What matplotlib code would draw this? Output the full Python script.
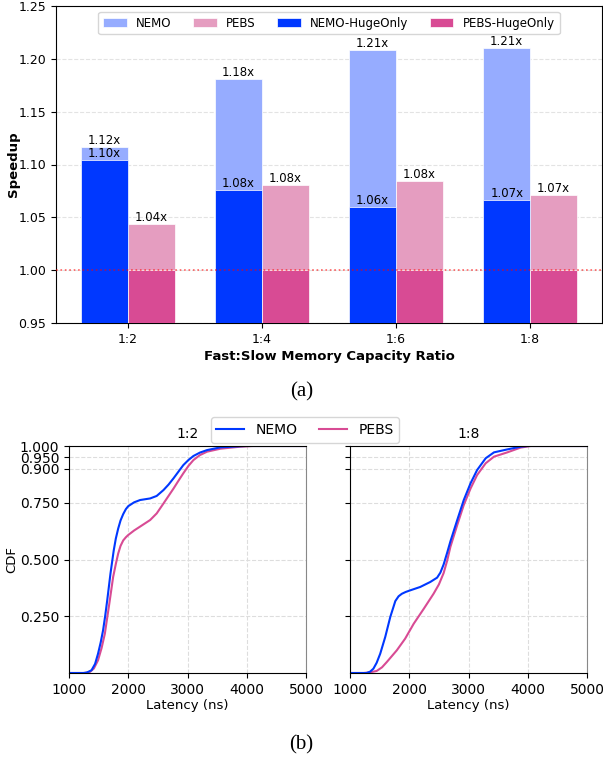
import numpy as np
import matplotlib.pyplot as plt

# speedup per fast:slow capacity ratio
ratios = ['1:2', '1:4', '1:6', '1:8']
nemo = [1.117, 1.181, 1.208, 1.210]
nemo_huge = [1.104, 1.076, 1.060, 1.066]
pebs = [1.044, 1.081, 1.084, 1.071]
pebs_huge = [1.000, 1.000, 1.000, 1.000]

# latency CDFs (ns), 1:2 ratio
lat_nemo_12 = [1000, 1240, 1300, 1380, 1440, 1490, 1535, 1575, 1610, 1645, 1700, 1755, 1790,
               1830, 1870, 1915, 1960, 2000, 2100, 2200, 2370, 2480, 2595, 2680, 2765, 2850,
               2930, 3015, 3100, 3210, 3330, 3555, 3890, 4000, 5000]
cdf_nemo_12 = [0, 0, 0.002, 0.012, 0.040, 0.085, 0.135, 0.188, 0.250, 0.320, 0.438, 0.540, 0.592,
               0.636, 0.672, 0.700, 0.722, 0.735, 0.752, 0.762, 0.769, 0.780, 0.806, 0.830, 0.858, 0.888,
               0.916, 0.938, 0.956, 0.971, 0.982, 0.994, 0.999, 1.0, 1.0]
lat_pebs_12 = [1000, 1260, 1350, 1420, 1490, 1550, 1605, 1640, 1680, 1745, 1790, 1830, 1870,
               1915, 1960, 2000, 2100, 2200, 2370, 2480, 2595, 2680, 2765, 2850, 2930, 3015,
               3100, 3210, 3330, 3555, 3890, 4100, 5000]
cdf_pebs_12 = [0, 0, 0.004, 0.020, 0.056, 0.110, 0.173, 0.235, 0.305, 0.423, 0.480, 0.526, 0.560,
               0.584, 0.598, 0.608, 0.628, 0.645, 0.674, 0.703, 0.747, 0.780, 0.813, 0.848, 0.880, 0.912,
               0.938, 0.960, 0.975, 0.988, 0.997, 1.0, 1.0]

# latency CDFs (ns), 1:8 ratio
lat_nemo_18 = [1000, 1280, 1340, 1395, 1450, 1510, 1595, 1680, 1765, 1820, 1875, 1940, 2015, 2185,
               2355, 2470, 2525, 2580, 2640, 2695, 2810, 2920, 3035, 3145, 3290, 3430, 3655,
               3880, 4000, 5000]
cdf_nemo_18 = [0, 0, 0.006, 0.019, 0.045, 0.085, 0.159, 0.247, 0.317, 0.338, 0.349, 0.357, 0.364, 0.379,
               0.401, 0.420, 0.442, 0.478, 0.530, 0.580, 0.674, 0.762, 0.836, 0.894, 0.946, 0.972, 0.985,
               0.997, 1.0, 1.0]
lat_pebs_18 = [1000, 1230, 1340, 1450, 1540, 1620, 1790, 1930, 2075, 2245, 2410, 2500, 2580,
               2640, 2695, 2810, 2920, 3035, 3145, 3290, 3430, 3655, 3880, 4050, 5000]
cdf_pebs_18 = [0, 0, 0.003, 0.009, 0.025, 0.048, 0.100, 0.151, 0.217, 0.283, 0.349, 0.390, 0.440,
               0.495, 0.556, 0.652, 0.740, 0.813, 0.872, 0.924, 0.953, 0.972, 0.993, 1.0, 1.0]

c_nemo = '#96acff'
c_nemo_huge = '#0038ff'
c_pebs = '#e59dc0'
c_pebs_huge = '#d84b94'

fig = plt.figure(figsize=(6.03, 7.61), dpi=100)

# ---- (a) speedup bars ----
ax = fig.add_axes([56 / 603, 1 - 323 / 761, 546 / 603, 317 / 761])
x = np.arange(len(ratios))
w = 0.35
b1 = ax.bar(x - w / 2, nemo, w, color=c_nemo, edgecolor='white', linewidth=0.5, label='NEMO', zorder=2)
b2 = ax.bar(x + w / 2, pebs, w, color=c_pebs, edgecolor='white', linewidth=0.5, label='PEBS', zorder=2)
b3 = ax.bar(x - w / 2, nemo_huge, w, color=c_nemo_huge, edgecolor='white', linewidth=0.5,
            label='NEMO-HugeOnly', zorder=3)
b4 = ax.bar(x + w / 2, pebs_huge, w, color=c_pebs_huge, edgecolor='white', linewidth=0.5,
            label='PEBS-HugeOnly', zorder=3)

for xs, vals in [(x - w / 2, nemo), (x - w / 2, nemo_huge), (x + w / 2, pebs)]:
    for xi, v in zip(xs, vals):
        ax.text(xi, v, f'{v:.2f}x', ha='center', va='bottom', fontsize=8.5, zorder=5)

ax.axhline(1.0, color='red', linestyle=':', linewidth=1.2, alpha=0.6, zorder=4)
ax.set_ylim(0.95, 1.25)
ax.set_yticks(np.arange(0.95, 1.251, 0.05))
ax.set_xticks(x)
ax.set_xticklabels(ratios)
ax.tick_params(labelsize=9)
ax.yaxis.grid(True, linestyle='--', color='#dddddd', alpha=0.8, zorder=0)
ax.set_axisbelow(True)
ax.set_ylabel('Speedup', fontsize=9.5, fontweight='bold')
ax.yaxis.set_label_coords(-36 / 546, 0.5)
ax.set_xlabel('Fast:Slow Memory Capacity Ratio', fontsize=9.5, fontweight='bold', labelpad=3)
ax.legend(handles=[b1, b2, b3, b4], ncol=4, loc='upper center', fontsize=8.5,
          bbox_to_anchor=(0.5, 1.0), columnspacing=1.8, handlelength=2.0)

fig.text(0.5, 1 - 392 / 761, '(a)', ha='center', va='center', fontsize=15, family='Liberation Serif')

# ---- (b) latency CDFs ----
ax1 = fig.add_axes([69 / 603, 1 - 673 / 761, 237 / 603, 227 / 761])
ax2 = fig.add_axes([350 / 603, 1 - 673 / 761, 237 / 603, 227 / 761], sharey=ax1)

curves = [(ax1, '1:2', lat_nemo_12, cdf_nemo_12, lat_pebs_12, cdf_pebs_12),
          (ax2, '1:8', lat_nemo_18, cdf_nemo_18, lat_pebs_18, cdf_pebs_18)]
for a, title, ln, cn, lp, cp in curves:
    a.plot(lp, cp, color=c_pebs_huge, linewidth=1.5, label='PEBS')
    a.plot(ln, cn, color=c_nemo_huge, linewidth=1.5, label='NEMO')
    a.set_xlim(1000, 5000)
    a.set_ylim(0, 1)
    a.set_xticks([1000, 2000, 3000, 4000, 5000])
    a.set_yticks([0.25, 0.5, 0.75, 0.9, 0.95, 1.0])
    a.grid(True, linestyle='--', color='#dddddd')
    a.tick_params(labelsize=10)
    a.set_xlabel('Latency (ns)', fontsize=9.5, labelpad=2)
    a.set_title(title, fontsize=10)
    a.spines['right'].set_color('#888888')

ax1.set_yticklabels(['0.250', '0.500', '0.750', '0.900', '0.950', '1.000'])
ax1.set_ylabel('CDF', fontsize=9.5)
ax1.yaxis.set_label_coords(-51 / 237, 0.5)
plt.setp(ax2.get_yticklabels(), visible=False)

h, l = ax1.get_legend_handles_labels()
fig.legend([h[1], h[0]], [l[1], l[0]], ncol=2, loc='center', fontsize=10,
           bbox_to_anchor=(305 / 603, 1 - 430 / 761), columnspacing=1.6)

fig.text(0.5, 1 - 745 / 761, '(b)', ha='center', va='center', fontsize=15, family='Liberation Serif')

fig.savefig('out.png', dpi=100)
